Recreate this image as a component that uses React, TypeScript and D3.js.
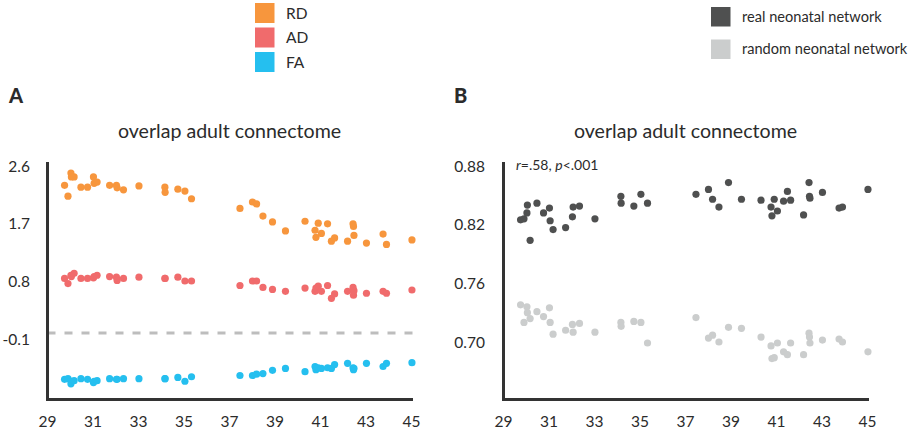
import React from "react";
import * as d3 from "d3";

const ages = [
  29.75, 29.9, 30.03, 30.05, 30.17, 30.47, 30.76, 31.02, 31.05, 31.18,
  31.73, 32.03, 32.06, 32.34, 33.02, 34.16, 34.17, 34.73, 35.04, 35.33,
  37.46, 38.01, 38.19, 38.47, 38.89, 39.46, 40.32, 40.76, 40.8, 40.9,
  41.04, 41.31, 41.48, 41.62, 42.19, 42.43, 42.45, 42.47, 43.02, 43.75,
  43.9, 45.02,
];

const rdValues = [
  2.3, 2.13, 2.49, 2.43, 2.43, 2.27, 2.27, 2.43, 2.33, 2.35,
  2.3, 2.3, 2.26, 2.23, 2.29, 2.27, 2.19, 2.24, 2.21, 2.09,
  1.94, 2.04, 2.01, 1.82, 1.73, 1.59, 1.74, 1.6, 1.49, 1.71,
  1.55, 1.7, 1.43, 1.48, 1.43, 1.7, 1.66, 1.52, 1.4, 1.54,
  1.38, 1.45,
];

const adValues = [
  0.85, 0.77, 0.9, 0.88, 0.93, 0.85, 0.85, 0.86, 0.88, 0.9,
  0.88, 0.87, 0.82, 0.85, 0.87, 0.85, 0.85, 0.87, 0.81, 0.81,
  0.74, 0.81, 0.81, 0.71, 0.68, 0.65, 0.7, 0.65, 0.7, 0.73,
  0.65, 0.74, 0.54, 0.61, 0.65, 0.71, 0.59, 0.66, 0.62, 0.65,
  0.62, 0.67,
];

const faValues = [
  -0.72, -0.71, -0.79, -0.75, -0.74, -0.71, -0.72, -0.77, -0.75, -0.74,
  -0.71, -0.72, -0.72, -0.71, -0.71, -0.71, -0.71, -0.69, -0.75, -0.68,
  -0.66, -0.66, -0.64, -0.63, -0.58, -0.55, -0.6, -0.52, -0.57, -0.54,
  -0.55, -0.54, -0.55, -0.49, -0.47, -0.54, -0.57, -0.55, -0.47, -0.52,
  -0.47, -0.46,
];

const realValues = [
  0.825, 0.826, 0.832, 0.84, 0.804, 0.842, 0.832, 0.837, 0.824, 0.815,
  0.817, 0.828, 0.838, 0.839, 0.826, 0.849, 0.842, 0.839, 0.851, 0.842,
  0.851, 0.856, 0.846, 0.838, 0.863, 0.846, 0.845, 0.838, 0.829, 0.846,
  0.834, 0.844, 0.854, 0.845, 0.83, 0.863, 0.849, 0.847, 0.853, 0.837,
  0.838, 0.856,
];

const randomValues = [
  0.738, 0.72, 0.736, 0.73, 0.724, 0.731, 0.726, 0.735, 0.72, 0.708,
  0.712, 0.718, 0.71, 0.719, 0.71, 0.72, 0.716, 0.721, 0.72, 0.699,
  0.725, 0.704, 0.707, 0.7, 0.715, 0.714, 0.705, 0.696, 0.683, 0.684,
  0.699, 0.69, 0.687, 0.699, 0.687, 0.709, 0.705, 0.699, 0.702, 0.703,
  0.7, 0.69,
];

const xTicks = [29, 31, 33, 35, 37, 39, 41, 43, 45];
const yTicksA = [2.6, 1.7, 0.8, -0.1];
const yTicksB = [0.88, 0.82, 0.76, 0.7];
const yTickLabelsA = ["2.6", "1.7", "0.8", "-0.1"];
const yTickLabelsB = ["0.88", "0.82", "0.76", "0.70"];

const legendA = [
  { label: "RD", color: "#F7963D" },
  { label: "AD", color: "#F06B6C" },
  { label: "FA", color: "#25BFEF" },
];
const legendB = [
  { label: "real neonatal network", color: "#4F5050" },
  { label: "random neonatal network", color: "#CBCDCD" },
];

const FONT = "Lato, 'Open Sans', sans-serif";
const TEXT = "#2b2b2b";
const AXIS = "#333333";
const R = 3.6;

export default function App() {
  const top = 162;
  const bottom = 399.5;

  const xA = d3.scaleLinear().domain([29, 45]).range([47.5, 411.5]);
  const xB = d3.scaleLinear().domain([29, 45]).range([503.5, 867.5]);
  const yA = d3.scaleLinear().domain([-0.1, 2.6]).range([339.5, 166]);
  const yB = d3.scaleLinear().domain([0.7, 0.88]).range([342, 166]);

  const seriesA = [
    { values: rdValues, color: legendA[0].color },
    { values: adValues, color: legendA[1].color },
    { values: faValues, color: legendA[2].color },
  ];
  const seriesB = [
    { values: realValues, color: legendB[0].color },
    { values: randomValues, color: legendB[1].color },
  ];

  return (
    <svg
      width={915}
      height={433}
      style={{ position: "absolute", left: 0, top: 0, background: "#fff" }}
      fontFamily={FONT}
    >
      {/* Legend A */}
      {legendA.map((d, i) => (
        <g key={d.label}>
          <rect x={255} y={3 + i * 24.5} width={19.5} height={20} fill={d.color} />
          <text x={286} y={13 + i * 24.5} dy="0.36em" fontSize={15.5} fill={TEXT}>
            {d.label}
          </text>
        </g>
      ))}
      {/* Legend B */}
      {legendB.map((d, i) => (
        <g key={d.label}>
          <rect x={711} y={7 + i * 32.5} width={19.5} height={19.5} fill={d.color} />
          <text x={742} y={16.5 + i * 32.5} dy="0.36em" fontSize={14.6} fill={TEXT}>
            {d.label}
          </text>
        </g>
      ))}

      {/* Panel labels */}
      <text x={9} y={103} fontSize={20} fontWeight={900} fill={TEXT}>A</text>
      <text x={454} y={103} fontSize={20} fontWeight={900} fill={TEXT}>B</text>

      {/* Titles */}
      <text x={229.5} y={138} textAnchor="middle" fontSize={19.6} fill={TEXT}>
        overlap adult connectome
      </text>
      <text x={685.5} y={138} textAnchor="middle" fontSize={19.6} fill={TEXT}>
        overlap adult connectome
      </text>

      {/* Panel A */}
      <line
        x1={xA(29)}
        x2={413}
        y1={yA(0)}
        y2={yA(0)}
        stroke="#BDBDBD"
        strokeWidth={3}
        strokeDasharray="8,9"
      />
      {seriesA.map((s, si) =>
        s.values.map((v, i) => (
          <circle key={`a${si}-${i}`} cx={xA(ages[i])} cy={yA(v)} r={R} fill={s.color} />
        ))
      )}
      <path
        d={`M${xA(29)},${top} V${bottom} H413`}
        fill="none"
        stroke={AXIS}
        strokeWidth={3}
      />
      {yTicksA.map((t, i) => (
        <text key={`ya${i}`} x={30} y={yA(t)} dy="0.36em" textAnchor="end" fontSize={15.5} fill={TEXT}>
          {yTickLabelsA[i]}
        </text>
      ))}
      {xTicks.map((t) => (
        <text key={`xa${t}`} x={xA(t)} y={421} dy="0.36em" textAnchor="middle" fontSize={15.5} fill={TEXT}>
          {t}
        </text>
      ))}

      {/* Panel B */}
      {seriesB.map((s, si) =>
        s.values.map((v, i) => (
          <circle key={`b${si}-${i}`} cx={xB(ages[i])} cy={yB(v)} r={R} fill={s.color} />
        ))
      )}
      <path
        d={`M${xB(29)},${top} V${bottom} H869`}
        fill="none"
        stroke={AXIS}
        strokeWidth={3}
      />
      {yTicksB.map((t, i) => (
        <text key={`yb${i}`} x={485} y={yB(t)} dy="0.36em" textAnchor="end" fontSize={15.5} fill={TEXT}>
          {yTickLabelsB[i]}
        </text>
      ))}
      {xTicks.map((t) => (
        <text key={`xb${t}`} x={xB(t)} y={421} dy="0.36em" textAnchor="middle" fontSize={15.5} fill={TEXT}>
          {t}
        </text>
      ))}
      <text x={516} y={170} fontSize={14} fill={TEXT}>
        <tspan fontStyle="italic">r</tspan>
        <tspan>=.58, </tspan>
        <tspan fontStyle="italic">p</tspan>
        <tspan>&lt;.001</tspan>
      </text>
    </svg>
  );
}
